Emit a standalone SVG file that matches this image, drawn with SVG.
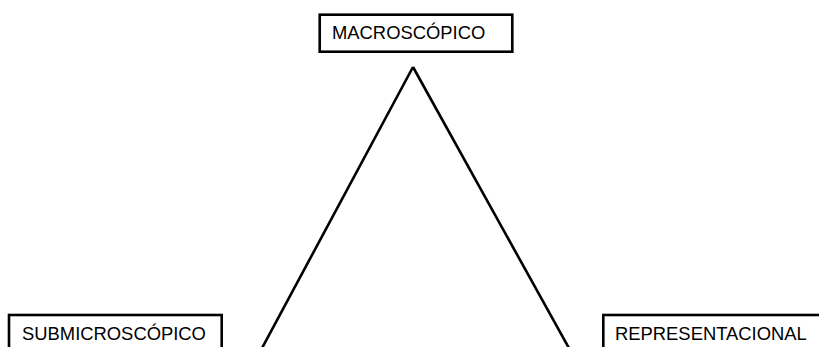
<svg xmlns="http://www.w3.org/2000/svg" width="819" height="347" viewBox="0 0 819 347">
<style>
.box{fill:#fff;stroke:#000;stroke-width:2.6}
.lbl{font-family:"Liberation Sans",Arial,sans-serif;font-size:18.4px;fill:#000}
.edge{stroke:#000;stroke-width:2.6;fill:none}
</style>
<rect width="819" height="347" fill="#fff"/>
<g id="connectors">
<line class="edge" x1="261" y1="350" x2="413" y2="67"/>
<line class="edge" x1="413" y1="67" x2="570" y2="350"/>
</g>
<g id="macroscopico">
<rect class="box" x="319.7" y="14.7" width="192.6" height="37"/>
<text class="lbl" x="332" y="38.5">MACROSCÓPICO</text>
</g>
<g id="submicroscopico">
<rect class="box" x="9" y="315" width="212.7" height="60"/>
<text class="lbl" x="22" y="340">SUBMICROSCÓPICO</text>
</g>
<g id="representacional">
<rect class="box" x="603.3" y="315" width="260" height="60"/>
<text class="lbl" x="615" y="340">REPRESENTACIONAL</text>
</g>
</svg>
